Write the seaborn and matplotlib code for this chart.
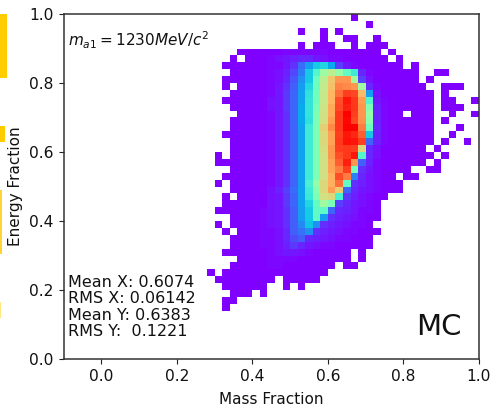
import numpy as np
import matplotlib
matplotlib.use('Agg')
import matplotlib.pyplot as plt
from matplotlib.patches import Rectangle
import seaborn as sns

# histogram binning: 50 x 50 bins over the unit square
n_bins = 50
bin_width = 0.02

# y bin index of each row, top to bottom
row_index = list(range(49, 6, -1))

# x bin index of the first cell stored in each row
row_start = [33, 35, 26, 29, 26, 18, 17, 16, 17, 16, 16, 17, 16, 17, 18, 17, 17, 16, 17, 17, 15,
             15, 17, 16, 15, 17, 16, 16, 15, 17, 15, 16, 17, 17, 16, 18, 17, 14, 15, 16, 17, 16, 16]

# bin contents (0 = empty, 100 = peak)
row_counts = [
    [1],
    [1],
    [1, 0, 0, 1, 0, 1],
    [1, 0, 0, 1, 1, 0, 0, 1],
    [1, 0, 1, 1, 1, 0, 0, 1, 0, 1, 1, 1],
    [1, 1, 1, 1, 1, 1, 2, 2, 2, 2, 2, 2, 1, 1, 1, 1, 1, 1, 1, 0, 1],
    [1, 0, 1, 1, 1, 2, 3, 4, 5, 6, 6, 4, 3, 2, 2, 1, 1, 1, 1, 1, 1, 0, 1],
    [1, 1, 1, 1, 1, 1, 2, 2, 4, 7, 15, 22, 30, 32, 24, 9, 4, 2, 1, 1, 1, 1, 1, 1, 0, 1],
    [1, 1, 1, 1, 1, 2, 3, 5, 10, 17, 30, 42, 56, 62, 55, 45, 38, 6, 2, 1, 1, 1, 1, 1, 1, 0, 0, 1, 1],
    [1, 1, 1, 1, 1, 1, 2, 3, 6, 12, 20, 30, 47, 62, 72, 80, 80, 58, 9, 3, 1, 1, 1, 1, 1, 1, 0, 1],
    [1, 0, 1, 1, 1, 1, 2, 4, 7, 13, 22, 33, 47, 63, 73, 83, 82, 80, 57, 6, 2, 1, 1, 1, 1, 1, 1, 0, 0, 1, 1, 1],
    [1, 1, 1, 1, 1, 2, 4, 8, 14, 23, 35, 48, 64, 75, 86, 92, 91, 74, 22, 3, 1, 1, 1, 1, 1, 1, 1, 0, 1],
    [1, 1, 1, 1, 1, 1, 3, 4, 8, 14, 23, 36, 48, 64, 75, 90, 97, 93, 79, 42, 4, 2, 1, 1, 1, 1, 1, 1, 0, 1, 1, 0, 0, 1],
    [1, 1, 1, 1, 1, 3, 4, 8, 14, 24, 36, 49, 65, 77, 91, 96, 93, 80, 50, 5, 2, 1, 1, 1, 1, 1, 1, 0, 1, 1, 1],
    [1, 1, 1, 1, 2, 4, 7, 14, 24, 36, 50, 66, 77, 93, 100, 92, 80, 54, 5, 2, 1, 1, 0, 1, 1, 1, 0, 0, 1, 0, 0, 1],
    [1, 1, 1, 1, 1, 2, 4, 7, 14, 24, 35, 50, 66, 79, 93, 99, 91, 81, 52, 5, 2, 1, 1, 1, 1, 1, 1, 0, 1],
    [1, 1, 1, 1, 1, 2, 4, 7, 14, 23, 38, 50, 70, 82, 93, 100, 100, 84, 47, 6, 2, 1, 1, 1, 1, 1, 1, 0, 0, 0, 1],
    [1, 1, 1, 1, 1, 1, 2, 4, 7, 14, 23, 38, 50, 68, 78, 92, 97, 95, 88, 30, 5, 2, 1, 1, 1, 1, 1, 1, 0, 0, 1],
    [1, 1, 1, 1, 1, 2, 4, 7, 14, 23, 38, 50, 68, 78, 93, 98, 97, 92, 14, 5, 2, 1, 1, 1, 1, 1, 1, 0, 1, 0, 0, 1],
    [1, 1, 1, 1, 1, 2, 4, 7, 14, 23, 38, 50, 67, 80, 92, 93, 92, 68, 6, 3, 1, 1, 1, 1, 1, 1, 0, 1],
    [1, 0, 1, 1, 1, 1, 1, 2, 4, 7, 14, 23, 38, 50, 66, 80, 90, 93, 97, 42, 6, 3, 1, 1, 1, 1, 1, 1, 1, 0, 1],
    [1, 1, 1, 1, 1, 1, 1, 2, 4, 7, 14, 23, 38, 50, 66, 78, 88, 96, 80, 13, 5, 2, 1, 1, 1, 1, 1, 1, 0, 1],
    [1, 1, 1, 1, 1, 2, 4, 7, 14, 23, 38, 50, 66, 78, 84, 92, 48, 7, 4, 2, 1, 1, 1, 1, 0, 0, 1, 1],
    [1, 1, 1, 1, 1, 1, 2, 4, 7, 14, 23, 38, 50, 66, 76, 90, 84, 18, 6, 3, 2, 1, 1, 0, 1, 1],
    [1, 0, 1, 1, 1, 1, 1, 2, 4, 7, 14, 23, 40, 54, 68, 76, 86, 45, 7, 5, 3, 2, 1, 1, 1],
    [1, 1, 1, 1, 1, 3, 5, 9, 15, 23, 38, 52, 68, 79, 71, 14, 6, 4, 3, 2, 1, 1, 1],
    [1, 0, 1, 1, 1, 1, 3, 4, 8, 14, 23, 37, 50, 66, 68, 40, 8, 5, 3, 2, 1, 1],
    [1, 1, 1, 1, 1, 1, 3, 4, 8, 14, 23, 32, 45, 57, 50, 9, 6, 4, 3, 2, 1],
    [1, 1, 1, 1, 1, 1, 2, 3, 4, 7, 13, 22, 30, 44, 44, 14, 6, 5, 4, 2, 2, 1],
    [1, 1, 1, 1, 2, 3, 4, 7, 13, 22, 30, 44, 22, 7, 5, 4, 3, 2, 1, 1],
    [1, 0, 1, 1, 1, 1, 2, 3, 4, 7, 13, 19, 29, 20, 7, 5, 4, 3, 2, 2, 1],
    [1, 0, 1, 1, 1, 2, 2, 3, 6, 13, 16, 20, 7, 5, 4, 3, 2, 2, 1, 1, 1],
    [1, 1, 1, 1, 2, 2, 3, 6, 11, 13, 6, 5, 4, 3, 2, 2, 1, 1, 1],
    [1, 1, 1, 1, 2, 2, 3, 5, 8, 6, 4, 3, 2, 2, 1, 1, 1, 1, 1],
    [1, 1, 1, 1, 1, 1, 2, 3, 4, 4, 3, 2, 1, 1, 1, 1, 1, 0, 1],
    [1, 1, 1, 1, 2, 2, 2, 2, 1, 1, 1, 1, 1, 1, 1, 0, 1],
    [1, 1, 1, 1, 1, 2, 2, 1, 1, 1, 1, 1, 1, 1, 0, 1, 1],
    [1, 0, 1, 1, 1, 1, 1, 1, 1, 1, 1, 1, 1, 1, 1, 1],
    [1, 1, 1, 1, 1, 1, 1, 1, 0, 1, 1, 1, 1, 1],
    [1, 1, 1, 1, 1, 1, 0, 0, 1, 0, 1],
    [1, 1, 1, 0, 1],
    [1, 1],
    [1],
]

stats_text = "Mean X: 0.6074\nRMS X: 0.06142\nMean Y: 0.6383\nRMS Y:  0.1221"
mass_label = r"$m_{a1} = 1230 MeV/c^2$"

# stray yellow slivers on the left edge of the image (x, y, w, h in pixels)
slivers = [(0, 14, 6.5, 64, '#ffcc00'), (0, 126, 4.5, 16, '#ffcc00'),
           (0, 190, 2, 64, '#ffd533'), (0, 302, 1, 16, '#ffe680')]

xs, ys, ws = [], [], []
for j, start, counts in zip(row_index, row_start, row_counts):
    for k, c in enumerate(counts):
        if c > 0:
            xs.append((start + k + 0.5) * bin_width)
            ys.append((j + 0.5) * bin_width)
            ws.append(c)

fig, ax = plt.subplots(figsize=(5.0, 4.18), dpi=100)
fig.subplots_adjust(left=63.5 / 500, right=479 / 500, top=1 - 14 / 418, bottom=1 - 359 / 418)

sns.histplot(x=xs, y=ys, weights=ws, bins=n_bins, binrange=((0, 1), (0, 1)), cmap='rainbow', ax=ax, vmin=1)

ax.set_xlim(-0.1, 1.0)
ax.set_ylim(0, 1.0)
ax.set_xticks([0.0, 0.2, 0.4, 0.6, 0.8, 1.0])
ax.set_yticks([0.0, 0.2, 0.4, 0.6, 0.8, 1.0])
ax.tick_params(labelsize=11.2, color='#222222', labelcolor='#111111')
ax.set_xlabel('Mass Fraction', fontsize=11, color='#111111', labelpad=5.8)
ax.set_ylabel('Energy Fraction', fontsize=11, color='#111111', labelpad=4.5)
for spine in ax.spines.values():
    spine.set_linewidth(1.1)
    spine.set_color('#333333')

ax.text(68, 418 - 40, mass_label, transform=None, fontsize=11, va='center', color='#111111')
ax.text(68, 418 - 339, stats_text, transform=None, fontsize=11.5, va='bottom', color='#111111', linespacing=1.12)
ax.text(438.5, 418 - 327, 'MC', transform=None, fontsize=21, ha='center', va='center', color='#111111')

for x0, y0, w, h, col in slivers:
    fig.patches.append(Rectangle((x0 / 500, 1 - (y0 + h) / 418), w / 500, h / 418,
                                 transform=fig.transFigure, color=col, lw=0))

fig.savefig('out.png', dpi=100)
